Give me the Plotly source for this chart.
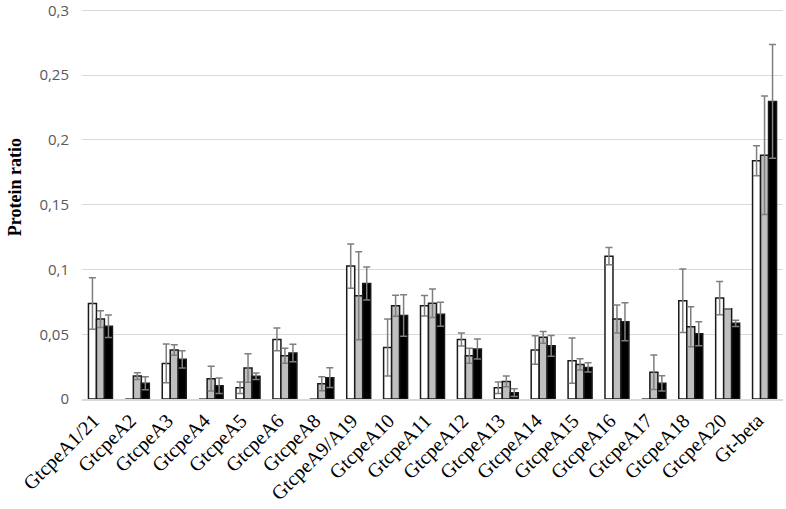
import plotly.graph_objects as go

categories = ["GtcpeA1/21", "GtcpeA2", "GtcpeA3", "GtcpeA4", "GtcpeA5", "GtcpeA6", "GtcpeA8",
              "GtcpeA9/A19", "GtcpeA10", "GtcpeA11", "GtcpeA12", "GtcpeA13", "GtcpeA14",
              "GtcpeA15", "GtcpeA16", "GtcpeA17", "GtcpeA18", "GtcpeA20", "Gt-beta"]

white_vals = [0.0738, 0, 0.0275, 0, 0.0087, 0.046, 0, 0.1026, 0.0398, 0.072, 0.046, 0.0087,
              0.0378, 0.0296, 0.1103, 0, 0.0758, 0.0779, 0.184]
white_err = [0.0199, 0, 0.015, 0, 0.0044, 0.0088, 0, 0.017, 0.022, 0.008, 0.005, 0.0044,
             0.011, 0.0175, 0.0067, 0, 0.0245, 0.0128, 0.0116]

gray_vals = [0.0617, 0.0177, 0.0378, 0.0157, 0.0239, 0.0334, 0.0118, 0.0797, 0.072, 0.074,
             0.0334, 0.0136, 0.0476, 0.0267, 0.0617, 0.0206, 0.0558, 0.0697, 0.1882]
gray_err = [0.0064, 0.0026, 0.004, 0.0095, 0.011, 0.0057, 0.0054, 0.034, 0.0082, 0.011,
            0.0057, 0.0041, 0.0046, 0.0044, 0.0108, 0.0133, 0.0154, 0.0, 0.0457]

black_vals = [0.0561, 0.0121, 0.0306, 0.0103, 0.0175, 0.0355, 0.0165, 0.0892, 0.0645, 0.0655,
              0.0386, 0.0049, 0.0411, 0.0244, 0.0596, 0.0121, 0.0504, 0.0584, 0.2298]
black_err = [0.0087, 0.005, 0.0067, 0.006, 0.0025, 0.0067, 0.0077, 0.0128, 0.016, 0.0093,
             0.0077, 0.003, 0.008, 0.0036, 0.0147, 0.0059, 0.0092, 0.0025, 0.044]

tick_vals = [0, 0.05, 0.1, 0.15, 0.2, 0.25, 0.3]
tick_text = ["0", "0,05", "0,1", "0,15", "0,2", "0,25", "0,3"]

fig = go.Figure()
series = [
    ("Series 1", white_vals, white_err, "#ffffff"),
    ("Series 2", gray_vals, gray_err, "#bfbfbf"),
    ("Series 3", black_vals, black_err, "#000000"),
]
for name, vals, errs, color in series:
    fig.add_trace(go.Bar(
        name=name, x=categories, y=vals,
        marker=dict(color=color, line=dict(color="#1a1a1a", width=1.5)),
        error_y=dict(type="data", array=errs, visible=True, color="#7f7f7f",
                     thickness=1.5, width=3.5),
        cliponaxis=False,
    ))

W, H = 786, 509
L, R, B = 82, 3, 110
Y_MAX = 0.305
PX_PER_UNIT = (399 - 10) / 0.3
T = 10 - (Y_MAX - 0.3) * PX_PER_UNIT
plot_w = W - L - R
plot_h = H - T - B

fig.update_layout(
    width=W, height=H,
    margin=dict(l=L, r=R, t=T, b=B, autoexpand=False),
    paper_bgcolor="white", plot_bgcolor="white",
    barmode="group", bargap=0.35, bargroupgap=0,
    showlegend=False,
    xaxis=dict(
        tickangle=-45, automargin=False,
        tickfont=dict(family="Liberation Serif", size=20, color="#000000"),
        showline=True, linecolor="#d9d9d9", linewidth=2,
        ticks="", showgrid=False,
        ticklabelshift=-7,
    ),
    yaxis=dict(
        range=[0, Y_MAX], tickvals=tick_vals, ticktext=tick_text, automargin=False,
        tickfont=dict(family="Open Sans", size=15, color="#595959"),
        showgrid=True, gridcolor="#d9d9d9", gridwidth=1,
        zeroline=False, showline=False, ticks="",
        ticklabelstandoff=12, ticklabeloverflow="allow",
    ),
    annotations=[dict(
        text="<b>Protein ratio</b>", textangle=-90,
        x=(15 - L) / plot_w, xref="paper", y=(H - B - 187) / plot_h, yref="paper",
        xanchor="center", yanchor="middle",
        showarrow=False,
        font=dict(family="Liberation Serif", size=18, color="#000000"),
    )],
)

fig.write_html("out.html", config={"displayModeBar": False},
               post_script="document.body.style.margin='0';document.body.style.padding='0';")
